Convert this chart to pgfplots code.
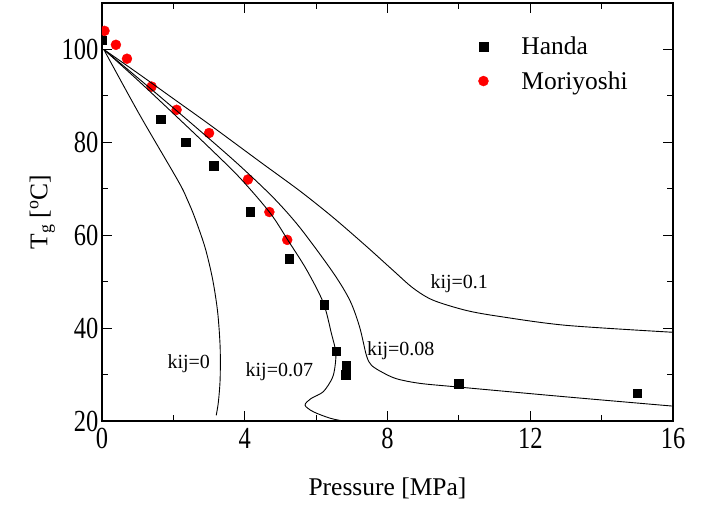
\documentclass[border=0pt]{standalone}
\usepackage{fontspec}
\setmainfont{Liberation Serif}
\usepackage{graphicx}
\usepackage{pgfplots}
\pgfplotsset{compat=1.18}

% measured glass transition temperatures
\pgfplotstableread{
p Tg
0.00 102
1.64 85
2.34 80
3.13 75
4.15 65
5.25 55
6.23 45
6.56 35
6.84 32
6.83 30
10.0 28
15.0 26
}\handa
\pgfplotstableread{
p Tg
0.07 104
0.39 101
0.70 98
1.39 92
2.09 87
3.00 82
4.09 72
4.69 65
5.19 59
}\moriyoshi

\begin{document}
\begin{tikzpicture}
\begin{axis}[
  name=ax,
  scale only axis,
  width=571bp, height=418bp,
  xmin=0, xmax=16, ymin=20, ymax=110,
  xtick={0,4,8,12,16}, ytick={20,40,60,80,100},
  minor xtick={2,6,10,14}, minor ytick={30,50,70,90},
  tick align=inside,
  major tick length=10bp, minor tick length=6bp,
  axis line style={line width=1.6bp},
  every tick/.style={black, line width=1.2bp},
  /pgf/number format/assume math mode=true,
  xticklabel={\scalebox{1}[1.25]{\pgfmathprintnumber{\tick}}},
  yticklabel={\scalebox{1}[1.25]{\pgfmathprintnumber{\tick}}},
  ticklabel style={font=\fontsize{24.5bp}{28bp}\selectfont},
  xticklabel style={yshift=-4bp},
  label style={font=\fontsize{25.5bp}{30bp}\selectfont},
  xlabel style={yshift=-22bp},
  xlabel={Pressure [MPa]},
  ylabel={T\textsubscript{g} [\textsuperscript{o}C]},
  clip marker paths=true,
  legend cell align=left,
  legend image code/.code={%
    \path[draw=none, fill=none] (-6bp,0bp) -- (36bp,0bp);
    \draw[#1, only marks] plot coordinates {(0bp,0bp)};},
  legend style={draw=none, fill=none, at={(rel axis cs:0.652,0.928)}, anchor=north west,
    font=\fontsize{25.5bp}{30bp}\selectfont, row sep=11bp},
]
\addplot[only marks, mark=square*, mark size=4.3bp, black] table[x=p,y=Tg]{\handa};
\addlegendentry{Handa}
\addplot[only marks, mark=*, mark size=5bp, red, mark options={draw=red,fill=red}] table[x=p,y=Tg]{\moriyoshi};
\addlegendentry{Moriyoshi}

% kij = 0
\addplot[black, line width=0.9bp, smooth] coordinates {
(0.05,100) (1.05,86) (2.14,71.6) (2.4,67.5) (2.6,63.8) (2.89,57.3) (3.1,50.5)
(3.24,43.5) (3.31,36) (3.31,29) (3.26,24) (3.2,21.2)};
% kij = 0.07
\addplot[black, line width=0.9bp, smooth] coordinates {
(0.05,100) (1,93.4) (2,86.2) (3,78.9) (3.87,72.3) (4.71,64.8) (5.22,58.8)
(5.73,52.6) (6.2,45.5) (6.43,38.8) (6.55,34.9) (6.53,31.8) (6.45,29.2)
(6.2,26.3) (5.85,24.8) (5.69,23.4) (5.92,22) (6.39,20.6) (6.76,20)};
% kij = 0.08
\addplot[black, line width=0.9bp, smooth] coordinates {
(0.05,100) (1,93.9) (2,87.4) (3,80.8) (3.87,74.9) (4.8,68.1) (5.55,61.6)
(6.48,51.9) (6.95,45.9) (7.22,40.2) (7.41,34.1) (7.55,32.0) (7.85,30.5)
(8.25,29.1) (8.91,28.1) (10,27.3) (13,25.2) (16,23.2)};
% kij = 0.1
\addplot[black, line width=0.9bp, smooth] coordinates {
(0.05,100) (1,94.9) (2,89.4) (3,83.9) (4.43,75.8) (5.55,69.5) (6.48,63.8)
(7.41,57.6) (8.16,52.4) (8.72,48.6) (9.28,46) (10.21,43.8) (11.15,42.5)
(13,40.6) (16,39.1)};

\node[font=\fontsize{20bp}{24bp}\selectfont] at (axis cs:10.01,49.5) {kij=0.1};
\node[font=\fontsize{20bp}{24bp}\selectfont] at (axis cs:8.37,35.2) {kij=0.08};
\node[font=\fontsize{20bp}{24bp}\selectfont] at (axis cs:4.97,30.6) {kij=0.07};
\node[font=\fontsize{20bp}{24bp}\selectfont] at (axis cs:2.43,32.4) {kij=0};
\end{axis}
\pgfresetboundingbox
\path[use as bounding box] ([shift={(-102bp,-86bp)}]ax.south west)
  rectangle ([shift={(31bp,3bp)}]ax.north east);
\end{tikzpicture}
\end{document}
